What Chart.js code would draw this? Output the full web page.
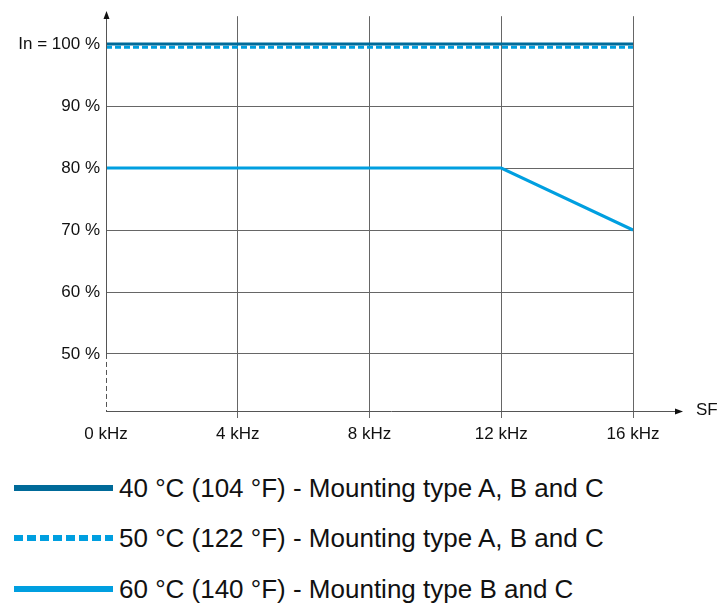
<!DOCTYPE html>
<html>
<head>
<meta charset="utf-8">
<script src="https://cdn.jsdelivr.net/npm/chart.js@4.4.1/dist/chart.umd.min.js"></script>
<style>
  body { margin: 0; background: #fff; }
  #wrap { position: relative; width: 720px; height: 605px; font-family: "Liberation Sans", Arial, sans-serif; }
  #chart { position: absolute; left: 0; top: 0; }
  .row { position: absolute; left: 14px; height: 30px; display: flex; align-items: center; font-size: 26px; color: #111; white-space: nowrap; }
  .sw { width: 99px; height: 6px; margin-right: 6px; }
</style>
</head>
<body>
<div id="wrap">
  <canvas id="chart" width="720" height="450"></canvas>
  <div id="legend"></div>
</div>
<script>
// switching frequency (kHz) and rated current (%)
const xTicks = [0, 4, 8, 12, 16];
const xTickLabels = ['0 kHz', '4 kHz', '8 kHz', '12 kHz', '16 kHz'];
const yTicks = [50, 60, 70, 80, 90, 100];
const yTickLabels = ['50 %', '60 %', '70 %', '80 %', '90 %', 'In = 100 %'];

const freq40 = [0, 16];
const curr40 = [100, 100];
const freq50 = [0, 16];
const curr50 = [99.5, 99.5];
const freq60 = [0, 12, 16];
const curr60 = [80, 80, 70];

const seriesNames = [
  '40 °C (104 °F) - Mounting type A, B and C',
  '50 °C (122 °F) - Mounting type A, B and C',
  '60 °C (140 °F) - Mounting type B and C'
];

const darkBlue = '#006a99';
const lightBlue = '#009fe0';
const gridGrey = '#666';
const tickFont = { family: '"Liberation Sans", Arial, sans-serif', size: 17 };

const pts = (xs, ys) => xs.map((x, i) => ({ x: x, y: ys[i] }));

// axes with arrows, y axis dashed below 50 %
const axesPlugin = {
  id: 'axes',
  afterDraw(chart) {
    const ctx = chart.ctx;
    const a = chart.chartArea;
    const y50 = chart.scales.y.getPixelForValue(50);
    ctx.save();
    ctx.strokeStyle = '#555';
    ctx.fillStyle = '#111';
    ctx.lineWidth = 1;
    const x0 = a.left + 0.5;
    ctx.beginPath();
    ctx.moveTo(x0, 16);
    ctx.lineTo(x0, y50);
    ctx.stroke();
    ctx.setLineDash([5, 3]);
    ctx.beginPath();
    ctx.moveTo(x0, y50);
    ctx.lineTo(x0, a.bottom);
    ctx.stroke();
    ctx.setLineDash([]);
    // y arrow
    ctx.beginPath();
    ctx.moveTo(x0, 11);
    ctx.lineTo(x0 - 3, 19);
    ctx.lineTo(x0 + 3, 19);
    ctx.closePath();
    ctx.fill();
    // x axis
    const yb = a.bottom + 0.5;
    ctx.beginPath();
    ctx.moveTo(a.left, yb);
    ctx.lineTo(677, yb);
    ctx.stroke();
    ctx.beginPath();
    ctx.moveTo(683, yb);
    ctx.lineTo(675, yb - 3);
    ctx.lineTo(675, yb + 3);
    ctx.closePath();
    ctx.fill();
    ctx.font = '17px "Liberation Sans", Arial, sans-serif';
    ctx.textBaseline = 'middle';
    ctx.fillText('SF', 696, yb - 1);
    ctx.restore();
  }
};

new Chart(document.getElementById('chart'), {
  type: 'line',
  data: {
    datasets: [
      { label: seriesNames[0], data: pts(freq40, curr40), borderColor: darkBlue, borderWidth: 3, pointRadius: 0 },
      { label: seriesNames[1], data: pts(freq50, curr50), borderColor: lightBlue, borderWidth: 3, borderDash: [6, 3], pointRadius: 0 },
      { label: seriesNames[2], data: pts(freq60, curr60), borderColor: lightBlue, borderWidth: 3, pointRadius: 0 }
    ]
  },
  options: {
    responsive: false,
    animation: false,
    devicePixelRatio: 1,
    layout: { padding: { top: 15, right: 87, left: 0, bottom: 0 } },
    plugins: { legend: { display: false }, tooltip: { enabled: false } },
    scales: {
      x: {
        type: 'linear',
        min: 0,
        max: 16,
        afterFit: s => { s.height = 39; },
        afterBuildTicks: s => { s.ticks = xTicks.map(v => ({ value: v })); },
        border: { display: false },
        grid: {
          color: c => (c.tick && c.tick.value === 0) ? 'rgba(0,0,0,0)' : gridGrey,
          tickLength: 7,
          lineWidth: 1
        },
        ticks: {
          color: '#111',
          padding: 6,
          maxRotation: 0,
          font: tickFont,
          callback: v => xTickLabels[xTicks.indexOf(v)]
        }
      },
      y: {
        min: 40.8,
        max: 104.5,
        afterFit: s => { s.width = 106; },
        afterBuildTicks: s => { s.ticks = yTicks.map(v => ({ value: v })); },
        border: { display: false },
        grid: { color: gridGrey, drawTicks: false, lineWidth: 1 },
        ticks: {
          color: '#111',
          padding: 6,
          font: tickFont,
          callback: v => yTickLabels[yTicks.indexOf(v)]
        }
      }
    }
  },
  plugins: [axesPlugin]
});

// legend below the chart
const swatches = [
  'background:' + darkBlue,
  'background: repeating-linear-gradient(90deg, ' + lightBlue + ' 0 9px, transparent 9px 13px)',
  'background:' + lightBlue
];
const rowTops = [473, 523, 574];
const legend = document.getElementById('legend');
seriesNames.forEach((name, i) => {
  const row = document.createElement('div');
  row.className = 'row';
  row.style.top = rowTops[i] + 'px';
  row.innerHTML = '<span class="sw" style="' + swatches[i] + '"></span><span>' + name + '</span>';
  legend.appendChild(row);
});
</script>
</body>
</html>
